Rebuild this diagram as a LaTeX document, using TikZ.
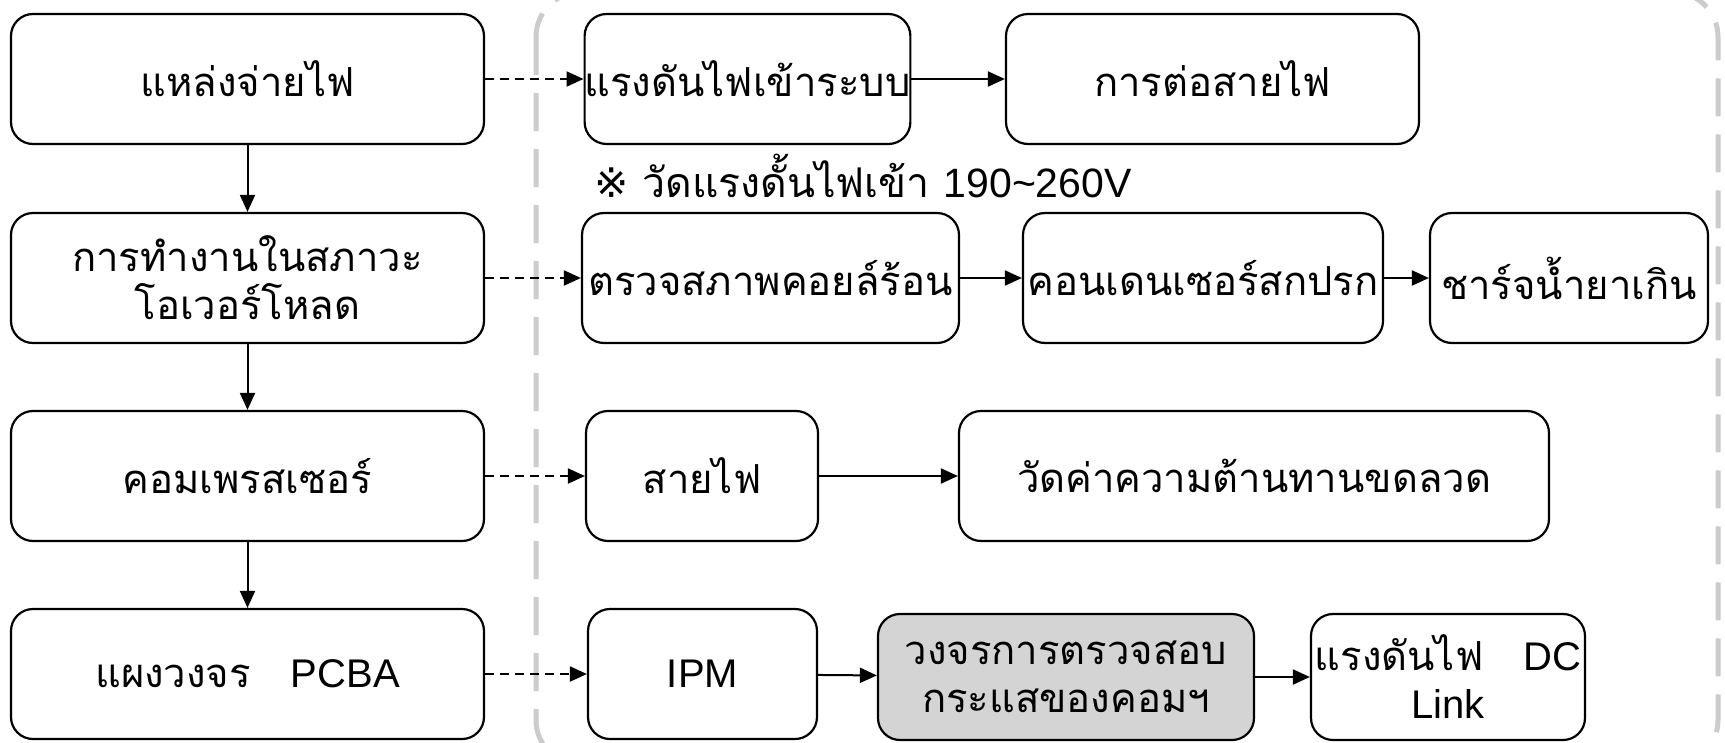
\documentclass[tikz,border=0pt]{standalone}
\usepackage{fontspec}
\setmainfont[Script=Thai]{Loma}
\newfontfamily\lat{Liberation Sans}
\newfontfamily\sym{DejaVu Sans}
\usetikzlibrary{arrows.meta}
\begin{document}
\begin{tikzpicture}[x=1pt,y=-1pt,
  box/.style={draw, line width=2.2pt, rounded corners=22pt, minimum height=130pt,
    inner sep=0pt, align=center, font=\fontsize{40}{48}\selectfont},
  greybox/.style={box, fill=black!17},
  solidarrow/.style={line width=2pt, -{Triangle[length=17pt,width=15pt]}},
  dasharrow/.style={line width=2pt, dash pattern=on 9pt off 6pt, -{Triangle[length=17pt,width=15pt]}},
  frame/.style={draw=black!20, line width=5pt, dash pattern=on 38pt off 18pt, rounded corners=45pt}
]
\useasboundingbox (0,0) rectangle (1725,742);
\clip (0,0) rectangle (1725,742);
\fill[white] (0,0) rectangle (1725,742);
\draw[frame] (536,-8) rectangle (1718,765);

% left column
\node[box, minimum width=473pt] (L1) at (247.5,79) {แหล่งจ่ายไฟ};
\node[box, minimum width=473pt] (L2) at (247.5,278) {การทำงานในสภาวะ\\โอเวอร์โหลด};
\node[box, minimum width=473pt] (L3) at (247.5,476) {คอมเพรสเซอร์};
\node[box, minimum width=473pt] (L4) at (247.5,674) {แผงวงจร\quad{\lat PCBA}};

% row 1
\node[box, minimum width=323pt] (A1) at (747.5,79) {แรงดันไฟเข้าระบบ};
\node[box, minimum width=413pt] (A2) at (1212.5,79) {การต่อสายไฟ};
\node[anchor=west, inner sep=0pt, font=\fontsize{41}{48}\selectfont] (note) at (594,176) {{\sym ※} วัดแรงดั้นไฟเข้า {\lat 190\char"007E 260V}};

% row 2
\node[box, minimum width=377pt] (B1) at (770.5,278) {ตรวจสภาพคอยล์ร้อน};
\node[box, minimum width=360pt] (B2) at (1203,278) {คอนเดนเซอร์สกปรก};
\node[box, minimum width=278pt] (B3) at (1569,278) {ชาร์จน้ำยาเกิน};

% row 3
\node[box, minimum width=232pt] (C1) at (702,476) {สายไฟ};
\node[box, minimum width=590pt] (C2) at (1254,476) {วัดค่าความต้านทานขดลวด};

% row 4
\node[box, minimum width=229pt] (D1) at (702.5,674) {\lat IPM};
\node[greybox, minimum width=376pt, minimum height=126pt] (D2) at (1066,677) {วงจรการตรวจสอบ\\กระแสของคอมฯ};
\node[box, minimum width=274pt, minimum height=126pt] (D3) at (1448,677) {แรงดันไฟ\quad{\lat DC}\\{\lat Link}};

% vertical arrows
\draw[solidarrow] (L1) -- (L2);
\draw[solidarrow] (L2) -- (L3);
\draw[solidarrow] (L3) -- (L4);

% dashed arrows
\draw[dasharrow] (L1.east) -- (A1.west);
\draw[dasharrow] (L2.east) -- (B1.west);
\draw[dasharrow] (L3.east) -- (C1.west);
\draw[dasharrow] (L4.east) -- (D1.west);

% horizontal arrows
\draw[solidarrow] (A1) -- (A2);
\draw[solidarrow] (B1) -- (B2);
\draw[solidarrow] (B2) -- (B3);
\draw[solidarrow] (C1) -- (C2);
\draw[solidarrow] (D1) -- (D2);
\draw[solidarrow] (D2) -- (D3);
\end{tikzpicture}
\end{document}
